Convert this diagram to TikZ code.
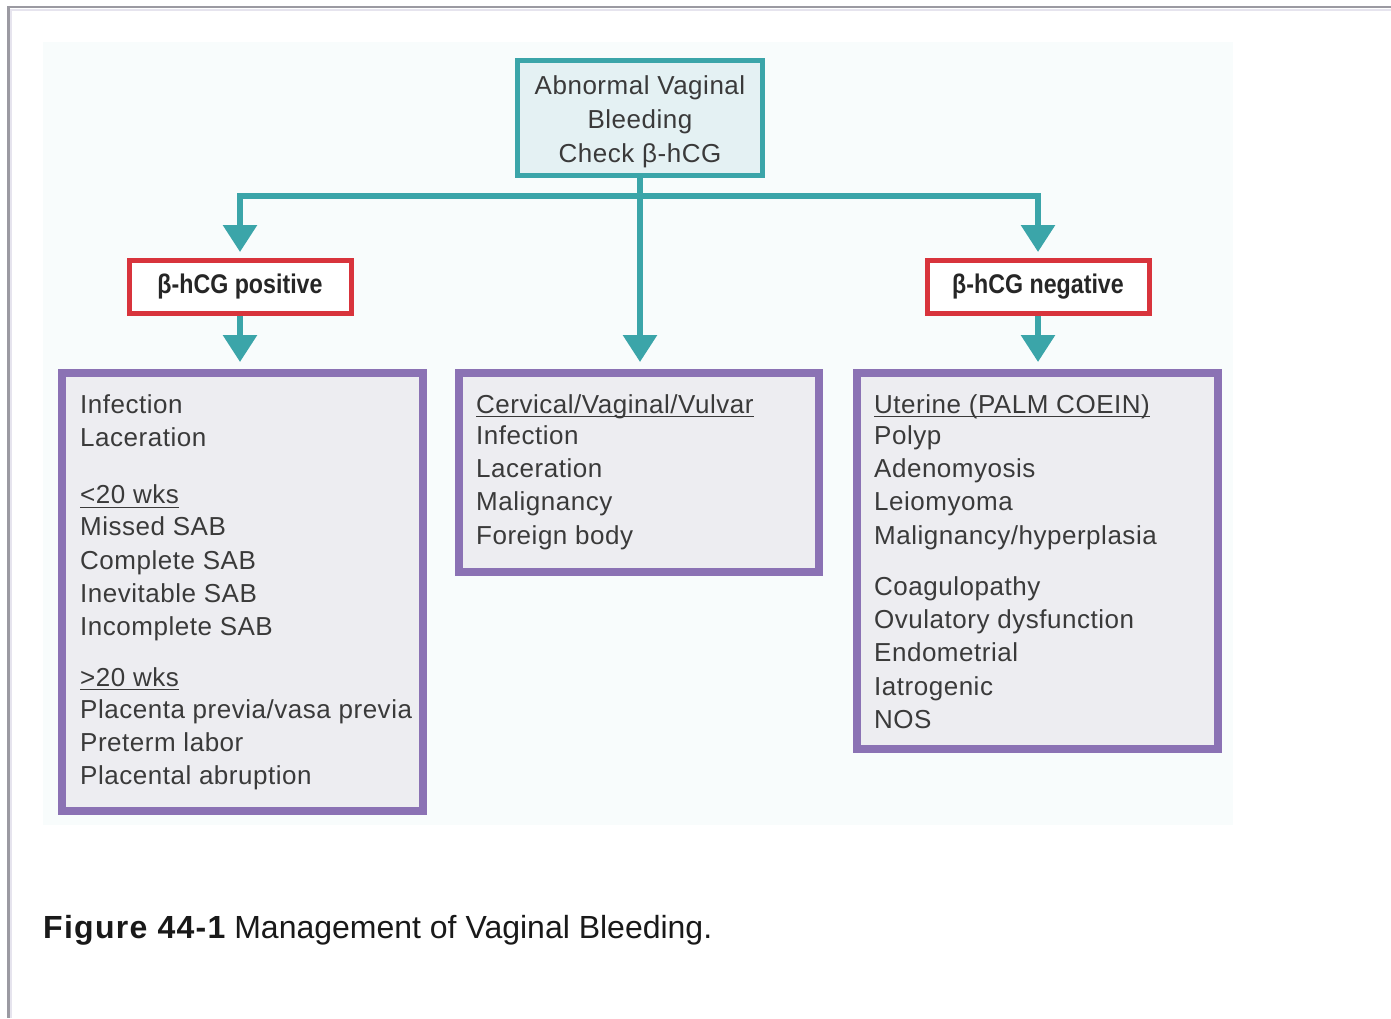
\documentclass[tikz,border=0pt]{standalone}
\usepackage{fontspec}
\setmainfont{Liberation Sans}
\newfontfamily\listsans[LetterSpace=2]{Liberation Sans}
\newfontfamily\condsans[FakeStretch=0.86]{Liberation Sans}
\newfontfamily\capbold[LetterSpace=4]{Liberation Sans Bold}
\usetikzlibrary{arrows.meta}

\definecolor{lineteal}{HTML}{3BA5A9}
\definecolor{topfill}{HTML}{E4F1F3}
\definecolor{boxred}{HTML}{D8343C}
\definecolor{boxpurple}{HTML}{8B72B4}
\definecolor{listfill}{HTML}{EDEDF1}
\definecolor{panelfill}{HTML}{F8FCFC}
\definecolor{framegray}{HTML}{9B9AA2}
\definecolor{framelav}{HTML}{E6E4EE}
\definecolor{inktext}{HTML}{3A3A3A}

% underline sitting just below the baseline, crossing descenders
\newcommand{\ulx}[1]{\setbox0\hbox{#1}\rlap{\rule[-4pt]{\wd0}{1.3pt}}\box0}

\begin{document}
\begin{tikzpicture}[x=1pt,y=-1pt,
  topbox/.style={draw=lineteal, fill=topfill, line width=5pt, minimum width=245pt,
    minimum height=115pt, inner sep=0pt},
  toptext/.style={inner sep=0pt, align=center, text=inktext,
    font=\listsans\fontsize{26}{34}\selectfont},
  resultbox/.style={draw=boxred, fill=white, line width=5pt, minimum width=222pt,
    minimum height=53pt, inner sep=0pt, text=black!85,
    font=\condsans\bfseries\fontsize{27}{30}\selectfont},
  causebox/.style={draw=boxpurple, fill=listfill, line width=8pt, inner sep=0pt},
  causelist/.style={anchor=north west, inner sep=0pt, align=left, text=inktext,
    font=\listsans\fontsize{26}{33.3}\selectfont},
  conn/.style={draw=lineteal, line width=6pt, line join=miter,
    -{Triangle[width=33pt,length=27pt]}}
]
\useasboundingbox (0,0) rectangle (1391,1018);
\fill[white] (0,0) rectangle (1391,1018);

% page frame (top and left rules)
\draw[framelav, line width=2pt] (11,9.5) -- (1391,9.5);
\draw[framelav, line width=2pt] (10.5,9) -- (10.5,1018);
\draw[framegray, line width=2.5pt] (7,7) -- (1391,7);
\draw[framegray, line width=2.5pt] (8.3,5.8) -- (8.3,1018);

% figure panel
\fill[panelfill] (43,42) rectangle (1233,825);

% decision boxes
\node[topbox] (top) at (640,118) {};
\node[toptext] (toplabel) at (640,121.5) {Abnormal Vaginal\\Bleeding\\Check β-hCG};
\node[resultbox] (pos) at (240,287) {β-hCG positive};
\node[resultbox] (neg) at (1038,287) {β-hCG negative};

% cause boxes
\node[causebox, minimum width=361pt, minimum height=438pt] (lbox) at (242.5,592) {};
\node[causebox, minimum width=360pt, minimum height=199pt] (mbox) at (639,472.5) {};
\node[causebox, minimum width=361pt, minimum height=376pt] (rbox) at (1037.5,561) {};

\node[causelist] (ltext) at (80,393) {\rule{0pt}{20pt}Infection\\
  Laceration\\[24pt]
  \ulx{<20 wks}\\[-1.3pt]
  Missed SAB\\
  Complete SAB\\
  Inevitable SAB\\
  Incomplete SAB\\[17pt]
  \ulx{>20 wks}\\[-1.3pt]
  Placenta previa/vasa previa\\
  Preterm labor\\
  Placental abruption};

\node[causelist] (mtext) at (476,393) {\rule{0pt}{20pt}\ulx{Cervical/Vaginal/Vulvar}\\[-2.3pt]
  Infection\\
  Laceration\\
  Malignancy\\
  Foreign body};

\node[causelist] (rtext) at (874,393) {\rule{0pt}{20pt}\ulx{Uterine (PALM COEIN)}\\[-2.3pt]
  Polyp\\
  Adenomyosis\\
  Leiomyoma\\
  Malignancy/hyperplasia\\[17.7pt]
  Coagulopathy\\
  Ovulatory dysfunction\\
  Endometrial\\
  Iatrogenic\\
  NOS};

% connectors
\coordinate (bar) at (640,196);
\draw[conn, shorten >=6pt] (top.south) -- (bar) -| (pos.north);
\draw[conn, shorten >=6pt] (bar) -| (neg.north);
\draw[conn, shorten >=7pt] (bar) -- (bar |- mbox.north);
\draw[conn, shorten >=7pt] (pos.south) -- (pos.south |- lbox.north);
\draw[conn, shorten >=7pt] (neg.south) -- (neg.south |- rbox.north);

% caption
\node[anchor=base west, inner sep=0pt, text=black!90,
  font=\fontsize{32}{36}\selectfont] (caption) at (43,938)
  {{\capbold Figure 44-1} Management of Vaginal Bleeding.};
\end{tikzpicture}
\end{document}
